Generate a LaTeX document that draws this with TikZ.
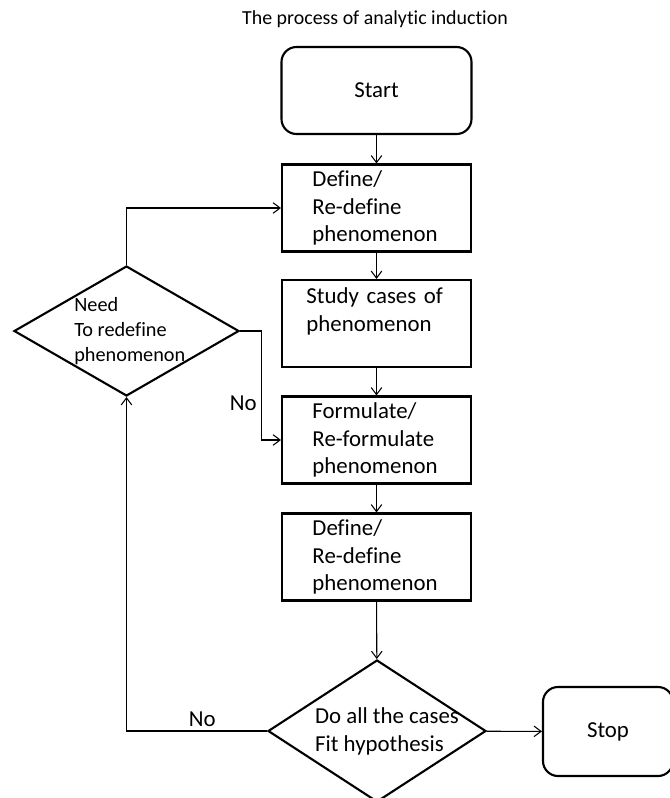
\documentclass[tikz,border=0pt]{standalone}
\usepackage{fontspec}
\setmainfont[Ligatures={NoCommon,NoContextual}]{Carlito}
\usetikzlibrary{shapes.geometric,arrows.meta}

\begin{document}
\begin{tikzpicture}[x=0.03cm, y=-0.03cm, >={Straight Barb[length=6pt,width=9pt]},
		every node/.style={font=\fontsize{19.5}{23.8}\selectfont},
		term/.style={draw, line width=1.8pt, rounded corners=0.45cm, minimum width=5.7cm, minimum height=2.61cm},
		box/.style={draw, line width=1.8pt, minimum width=5.67cm, minimum height=2.61cm, inner sep=0pt, text width=3.84cm, align=left},
		dec/.style={draw, diamond, line width=1.8pt, inner sep=0pt},
		conn/.style={->, line width=0.9pt}]
			\useasboundingbox (0,0) rectangle (670,798);
			\node[anchor=base, font=\fontsize{17}{20}\selectfont] (title) at (375,24) {The process of analytic induction};
			% main column
			\node[term] (start) at (376.5,90.5) {Start};
			\node[box] (def1) at (376.5,208) {Define/\\Re-define\\phenomenon};
			\node[box, text width=4.2cm] (study) at (376.5,323.5) {Study cases of\\phenomenon\\\mbox{}};
			\node[box] (form) at (376.5,440) {Formulate/\\Re-formulate\\phenomenon};
			\node[box] (def2) at (376.5,557) {Define/\\Re-define\\phenomenon};
			% decisions
			\node[dec, minimum width=6.75cm, minimum height=3.9cm] (need) at (126.5,331) {};
			\node[align=left, font=\fontsize{17.3}{21.3}\selectfont] (needtxt) at ([xshift=0.1cm]need.center) {Need\\To redefine\\phenomenon};
			\node[dec, minimum width=6.54cm, minimum height=4.26cm] (fit) at (377,731) {};
			\node[align=left] (fittxt) at ([xshift=0.3cm]fit.center) {Do all the cases\\Fit hypothesis};
			\node[term, minimum width=3.9cm, minimum height=2.67cm] (stop) at (608,731.5) {Stop};
			% connectors
			\draw[conn] (start) -- (def1);
			\draw[conn] (def1) -- (study);
			\draw[conn] (study) -- (form);
			\draw[conn] (form) -- (def2);
			\draw[conn] (def2) -- (fit);
			\draw[conn] (fit) -- (stop);
			\draw[conn] (fit.west) -| node[pos=0.23, above] {No} (need.south);
			\draw[conn] (need.north) |- (def1.west);
			\draw[conn] (need.east) -- ++(21,0) |- node[pos=0.33, left] {No} (form.west);
		\end{tikzpicture}
\end{document}
